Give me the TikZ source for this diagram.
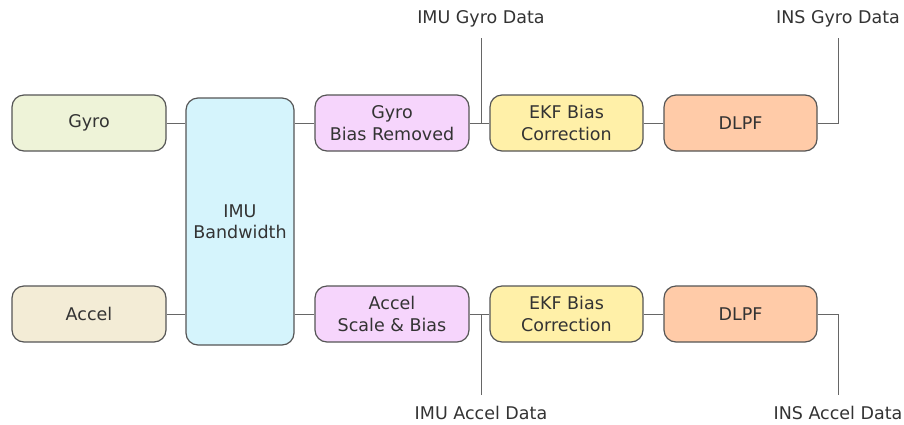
\documentclass[tikz,border=0pt]{standalone}
\usepackage{fontspec}
\setmainfont{DejaVu Sans}
\begin{document}
\begin{tikzpicture}[x=1pt,y=-1pt,
  boxstyle/.style={draw=bordercol, line width=1.2pt, rounded corners=12pt,
    minimum width=154pt, minimum height=56pt, inner sep=0pt, align=center,
    text=textcol, font=\fontsize{17.5}{21.5}\selectfont},
  wire/.style={draw=wirecol, line width=1pt},
  lbl/.style={text=textcol, inner sep=0pt, font=\fontsize{17.5}{21.5}\selectfont}]
\definecolor{bordercol}{HTML}{555555}
\definecolor{wirecol}{HTML}{666666}
\definecolor{textcol}{HTML}{333333}
\definecolor{cgyro}{HTML}{EEF3D8}
\definecolor{caccel}{HTML}{F3ECD6}
\definecolor{cimu}{HTML}{D5F4FC}
\definecolor{cpink}{HTML}{F6D5FC}
\definecolor{cyel}{HTML}{FFF0A8}
\definecolor{corg}{HTML}{FFCBA8}
\useasboundingbox (0,0) rectangle (904,424);

\node[boxstyle, fill=cgyro] (gyro) at (89,123) {Gyro};
\node[boxstyle, fill=caccel] (accel) at (89,314) {Accel};
\node[boxstyle, fill=cimu, minimum width=108pt, minimum height=247pt] (imu) at (240,221.5) {IMU\\Bandwidth};
\node[boxstyle, fill=cpink] (gbr) at (392,123) {Gyro\\Bias Removed};
\node[boxstyle, fill=cyel, minimum width=153pt] (ekf1) at (566.5,123) {EKF Bias\\Correction};
\node[boxstyle, fill=corg, minimum width=153pt] (dlpf1) at (740.5,123) {DLPF};
\node[boxstyle, fill=cpink] (asb) at (392,314) {Accel\\Scale \& Bias};
\node[boxstyle, fill=cyel, minimum width=153pt] (ekf2) at (566.5,314) {EKF Bias\\Correction};
\node[boxstyle, fill=corg, minimum width=153pt] (dlpf2) at (740.5,314) {DLPF};

\node[lbl] (imugyro) at (481,19) {IMU Gyro Data};
\node[lbl] (insgyro) at (838,19) {INS Gyro Data};
\node[lbl] (imuaccel) at (481,413) {IMU Accel Data};
\node[lbl] (insaccel) at (838,413) {INS Accel Data};

\coordinate (t1) at (481,38);
\coordinate (t2) at (838,38);
\coordinate (t3) at (481,395);
\coordinate (t4) at (838,395);

\draw[wire] (gyro.east) -- (gyro.east -| imu.west);
\draw[wire] (accel.east) -- (accel.east -| imu.west);
\draw[wire] (gbr.west -| imu.east) -- (gbr.west);
\draw[wire] (asb.west -| imu.east) -- (asb.west);
\draw[wire] (gbr.east) -- (ekf1.west);
\draw[wire] (ekf1.east) -- (dlpf1.west);
\draw[wire] (asb.east) -- (ekf2.west);
\draw[wire] (ekf2.east) -- (dlpf2.west);
\draw[wire] (t1) -- (t1 |- gbr.east);
\draw[wire] (t3) -- (t3 |- asb.east);
\draw[wire] (dlpf1.east) -- (dlpf1.east -| t2) -- (t2);
\draw[wire] (dlpf2.east) -- (dlpf2.east -| t4) -- (t4);
\end{tikzpicture}
\end{document}
